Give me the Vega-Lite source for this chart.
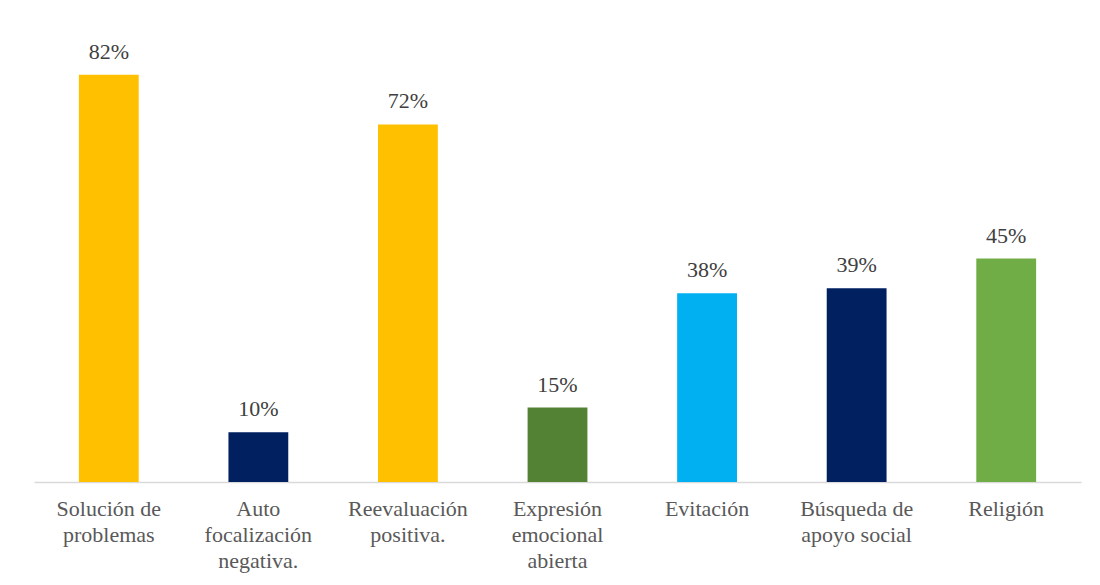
{
  "$schema": "https://vega.github.io/schema/vega-lite/v6.json",
  "width": 1047,
  "height": 447,
  "padding": {"left": 34, "top": 35, "right": 19, "bottom": 15},
  "background": "white",
  "config": {"view": {"stroke": null}, "font": "Liberation Serif"},
  "data": {
    "values": [
      {"cat": "Solución de|problemas", "v": 0.82},
      {"cat": "Auto|focalización|negativa.", "v": 0.10},
      {"cat": "Reevaluación|positiva.", "v": 0.72},
      {"cat": "Expresión|emocional|abierta", "v": 0.15},
      {"cat": "Evitación", "v": 0.38},
      {"cat": "Búsqueda de|apoyo social", "v": 0.39},
      {"cat": "Religión", "v": 0.45}
    ]
  },
  "encoding": {
    "x": {
      "field": "cat",
      "type": "nominal",
      "sort": null,
      "scale": {"paddingInner": 0.6, "paddingOuter": 0.3},
      "axis": {
        "title": null,
        "labelAngle": 0,
        "labelExpr": "split(datum.label, '|')",
        "labelFont": "Liberation Serif",
        "labelFontSize": 22,
        "labelLineHeight": 26,
        "labelColor": "#595959",
        "labelPadding": 16,
        "ticks": false,
        "domainColor": "#d9d9d9",
        "domainWidth": 1.5,
        "labelBaseline": "top"
      }
    },
    "y": {
      "field": "v",
      "type": "quantitative",
      "scale": {"domain": [0, 0.9]},
      "axis": null
    }
  },
  "layer": [
    {
      "mark": {"type": "bar"},
      "encoding": {
        "color": {
          "field": "cat",
          "type": "nominal",
          "sort": null,
          "scale": {"range": ["#FFC000", "#002060", "#FFC000", "#548235", "#00B0F0", "#002060", "#70AD47"]},
          "legend": null
        }
      }
    },
    {
      "mark": {"type": "text", "baseline": "alphabetic", "dy": -16, "fontSize": 22, "color": "#404040", "font": "Liberation Serif"},
      "encoding": {
        "text": {"field": "v", "type": "quantitative", "format": ".0%"}
      }
    }
  ]
}
